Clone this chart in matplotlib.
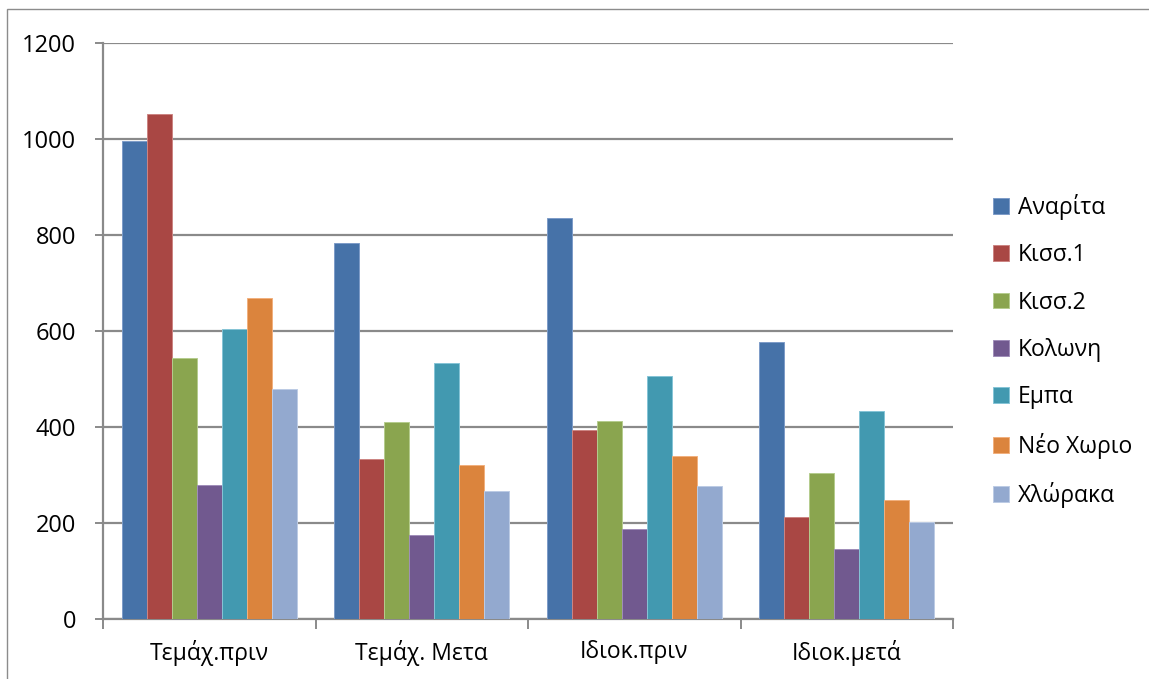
import matplotlib
matplotlib.use("Agg")
import matplotlib.pyplot as plt
from matplotlib.patches import Rectangle
import numpy as np

plt.rcParams['font.family'] = ['Open Sans', 'DejaVu Sans']

categories = ["Τεμάχ.πριν", "Τεμάχ. Μετα", "Ιδιοκ.πριν", "Ιδιοκ.μετά"]
series_names = ["Αναρίτα", "Κισσ.1", "Κισσ.2", "Κολωνη", "Εμπα", "Νέο Χωριο", "Χλώρακα"]
anarita = [996, 783, 836, 577]
kiss1 = [1053, 333, 393, 212]
kiss2 = [544, 411, 413, 304]
kolwni = [279, 174, 187, 146]
empa = [604, 534, 507, 434]
neo_xwrio = [668, 321, 340, 247]
xlwraka = [480, 267, 277, 203]
series_values = [anarita, kiss1, kiss2, kolwni, empa, neo_xwrio, xlwraka]
colors = ["#4672A8", "#A94744", "#8AA54F", "#71598F", "#4299B0", "#DB843D", "#93A9CF"]
edge_colors = ["#7D9CC8", "#CC8583", "#B5CC8E", "#A08EB9", "#86C4D6", "#F2B07E", "#BCCBE4"]
yticks = [0, 200, 400, 600, 800, 1000, 1200]

W, H = 1149, 679
fig = plt.figure(figsize=(W / 100, H / 100), dpi=100)
ax = fig.add_axes([103 / W, (H - 619) / H, (953 - 103) / W, (619 - 43) / H])

fig.patches.append(Rectangle((7 / W, -0.1), 1.2, (H - 9) / H + 0.1,
                             transform=fig.transFigure, fill=False,
                             edgecolor="#8C8C8C", lw=1.0, zorder=0))

n = len(series_names)
bw = 1 / 8.5
x = np.arange(len(categories))
for i, (name, vals) in enumerate(zip(series_names, series_values)):
    offs = (i - (n - 1) / 2) * bw
    ax.bar(x + offs, vals, width=bw, color=colors[i], edgecolor=edge_colors[i],
           linewidth=0.7, label=name, zorder=3)

ax.set_xlim(-0.5, len(categories) - 0.5)
ax.set_ylim(0, 1200)
ax.set_yticks(yticks)
ax.set_yticklabels([str(v) for v in yticks], fontsize=17)
ax.yaxis.grid(True, color="#8A8A8A", linewidth=1.6, zorder=0)
ax.set_axisbelow(True)

ax.set_xticks(x)
ax.set_xticklabels(categories, fontsize=16.5)
ax.set_xticks(np.arange(-0.5, len(categories), 1.0), minor=True)
ax.tick_params(axis='x', which='major', length=0, pad=15)
ax.tick_params(axis='x', which='minor', length=7, width=1.4, color="#8A8A8A", direction='out')
ax.tick_params(axis='y', which='major', length=6, width=1.4, color="#8A8A8A", pad=13.5)

for s in ["top", "right"]:
    ax.spines[s].set_visible(False)
for s in ["left", "bottom"]:
    ax.spines[s].set_color("#8A8A8A")
    ax.spines[s].set_linewidth(1.6)

fig.legend(loc='center left', bbox_to_anchor=(993 / W, (H - 351) / H),
           frameon=False, fontsize=16.5, handlelength=0.68, handleheight=0.68,
           handletextpad=0.4, labelspacing=1.02, borderpad=0, borderaxespad=0)

fig.savefig("out.png", dpi=100)
